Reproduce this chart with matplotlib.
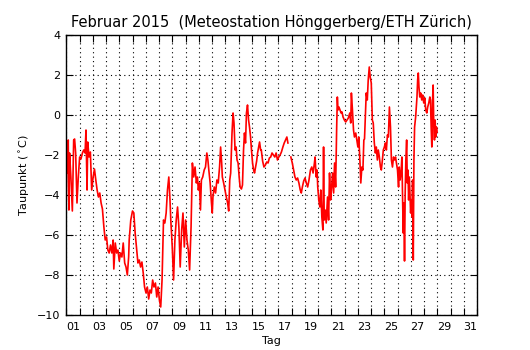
import numpy as np
import matplotlib
matplotlib.use('Agg')
import matplotlib.pyplot as plt

# Zeit in Tagen seit 1. Februar 00:00, Taupunkt in Grad Celsius
tag = [0.00, 0.05, 0.10, 0.15, 0.20, 0.25, 0.35, 0.46, 0.56, 0.63, 0.71, 0.81, 0.91,
       1.01, 1.11, 1.22, 1.32, 1.42, 1.49, 1.57, 1.62, 1.72, 1.82, 1.92,
       2.03, 2.13, 2.23, 2.33, 2.43, 2.53, 2.63, 2.73, 2.84, 2.94,
       3.04, 3.14, 3.24, 3.34, 3.44, 3.54, 3.59, 3.70, 3.80, 3.90,
       4.00, 4.10, 4.20, 4.30, 4.41, 4.51, 4.61, 4.71, 4.75, 4.87,
       5.00, 5.10, 5.20, 5.30, 5.41, 5.51, 5.61, 5.71, 5.81, 5.91,
       6.02, 6.12, 6.22, 6.32, 6.42, 6.52, 6.62, 6.73, 6.83, 6.93,
       7.03, 7.13, 7.23, 7.34, 7.44, 7.54, 7.64, 7.74, 7.82, 7.89,
       8.00, 8.10, 8.20, 8.30, 8.40, 8.50, 8.60, 8.71, 8.81, 8.91,
       9.01, 9.11, 9.21, 9.31, 9.42, 9.52, 9.62, 9.72, 9.82, 9.90, 9.97,
       10.05, 10.13, 10.20, 10.30, 10.41, 10.51, 10.61, 10.69, 10.76, 10.86, 10.96,
       11.02, 11.07, 11.17, 11.27, 11.37, 11.47, 11.57, 11.65, 11.73, 11.78, 11.88, 11.98,
       12.08, 12.18, 12.26, 12.34, 12.41, 12.51, 12.59, 12.66, 12.74, 12.82, 12.89, 12.97,
       13.05, 13.12, 13.22, 13.30, 13.38, 13.45, 13.53, 13.60, 13.68, 13.76, 13.83, 13.91, 13.98,
       14.06, 14.14, 14.21, 14.29, 14.37, 14.44, 14.52, 14.59, 14.67, 14.72, 14.82, 14.92,
       15.03, 15.13, 15.23, 15.33, 15.43, 15.53, 15.63, 15.74, 15.84, 15.94,
       16.04, 16.14, 16.24, 16.35, 16.45, 16.55, 16.65, 16.73, 16.84, 16.95,
       17.06, 17.16, 17.26, 17.36, 17.46, 17.56, 17.66, 17.74, 17.82, 17.92,
       18.02, 18.12, 18.22, 18.32, 18.43, 18.53, 18.63, 18.73, 18.78, 18.86, 18.93, 18.98,
       19.06, 19.14, 19.21, 19.29, 19.37, 19.42, 19.47, 19.54, 19.62, 19.72, 19.80, 19.87, 19.95,
       20.03, 20.10, 20.18, 20.25, 20.33, 20.41, 20.46, 20.51, 20.58, 20.66, 20.74, 20.81, 20.89, 20.99,
       21.09, 21.19, 21.29, 21.40, 21.47, 21.52, 21.60, 21.68, 21.75, 21.85, 21.93,
       22.01, 22.08, 22.16, 22.23, 22.31, 22.39, 22.46, 22.51, 22.59, 22.64, 22.72, 22.79, 22.87, 22.94,
       23.02, 23.10, 23.17, 23.25, 23.33, 23.40, 23.48, 23.55, 23.63, 23.71, 23.78, 23.86, 23.93,
       24.01, 24.09, 24.16, 24.24, 24.31, 24.39, 24.47, 24.54, 24.62, 24.70, 24.77, 24.85, 24.92,
       25.00, 25.08, 25.13, 25.20, 25.28, 25.33, 25.38, 25.43, 25.48, 25.53, 25.58, 25.63, 25.69,
       25.74, 25.79, 25.84, 25.89, 25.94, 25.99,
       26.04, 26.09, 26.14, 26.19, 26.24, 26.29, 26.37, 26.42, 26.47, 26.52, 26.57, 26.62, 26.68,
       26.75, 26.83, 26.90, 26.98,
       27.06, 27.13, 27.21, 27.28, 27.36, 27.44, 27.49, 27.54, 27.59, 27.64, 27.69, 27.74, 27.79,
       27.84, 27.89, 27.94, 27.99]

taupunkt = [-4.3, -1.6, -2.9, -1.25, -4.75, -1.9, -3.1, -4.8, -1.25, -1.2, -1.9, -4.4, -3.1,
            -2.1, -2.2, -1.9, -1.75, -1.9, -0.75, -3.75, -1.35, -2.1, -1.85, -3.75,
            -3.1, -2.7, -3.25, -3.75, -4.1, -3.9, -4.4, -4.7, -5.6, -6.25,
            -6.1, -6.75, -6.9, -6.5, -6.9, -6.25, -7.7, -6.4, -6.9, -6.75,
            -7.3, -6.9, -7.1, -6.4, -7.4, -7.6, -8.0, -7.1, -6.25, -5.25,
            -4.8, -4.9, -5.9, -6.6, -7.4, -7.25, -7.6, -7.35, -7.9, -8.6,
            -8.9, -8.6, -9.2, -8.75, -8.9, -8.25, -8.6, -8.4, -9.1, -8.6,
            -9.25, -9.6, -8.25, -5.25, -5.4, -4.9, -3.75, -3.1, -4.1, -5.25,
            -6.6, -8.25, -6.25, -5.25, -4.6, -5.6, -7.6, -5.75, -4.9, -6.6,
            -5.25, -6.25, -6.75, -7.75, -5.6, -2.4, -3.1, -2.6, -3.4, -3.1, -3.75,
            -3.4, -4.75, -3.25, -3.1, -2.75, -2.6, -1.9, -2.25, -2.75, -3.4, -4.4,
            -4.9, -4.1, -3.6, -3.9, -3.25, -3.4, -2.6, -1.6, -2.4, -3.1, -3.4, -3.75,
            -4.1, -4.4, -4.8, -3.25, -2.9, -0.9, 0.1, -0.4, -1.75, -1.6, -2.25, -2.4,
            -3.1, -3.6, -3.7, -3.5, -1.75, -0.9, -1.4, 0.1, 0.5, -0.25, -0.6, -1.1, -1.75,
            -2.4, -2.75, -2.9, -2.6, -2.3, -1.9, -1.6, -1.35, -1.75, -1.75, -2.3, -2.6,
            -2.5, -2.35, -2.4, -2.15, -2.1, -1.9, -2.0, -2.1, -1.9, -2.25,
            -2.1, -2.0, -1.85, -1.6, -1.4, -1.25, -1.1, -1.4, np.nan, -2.1,
            -2.4, -2.75, -3.1, -3.25, -3.15, -3.4, -3.75, -3.9, -3.6, -3.3,
            -3.15, -3.4, -3.6, -3.25, -2.75, -2.6, -2.9, -2.4, -2.1, -3.1, -2.75, -3.6,
            -4.25, -4.6, -3.75, -5.1, -5.75, -1.6, -5.25, -4.75, -5.4, -4.1, -5.25, -2.9, -4.25,
            -3.6, -2.9, -3.9, -2.4, -3.6, -0.6, 0.9, 0.25, 0.4, 0.25, 0.1, 0.15, -0.1, -0.25,
            -0.35, -0.25, -0.15, 0.1, -0.4, 1.1, 0.25, -0.75, -1.1, -0.9, -1.25,
            -1.6, -1.1, -2.25, -3.4, -2.6, -2.75, -1.25, -1.2, 0.25, 1.1, 0.75, 1.75, 2.4, 1.9,
            1.6, -0.25, -0.4, -1.4, -1.9, -1.6, -2.25, -1.75, -2.1, -2.6, -2.75, -2.25, -1.75,
            -1.6, -1.4, -1.75, -1.0, -1.1, 0.4, -0.6, -2.25, -2.6, -2.1, -2.25, -2.1, -2.4,
            -2.75, -3.6, -2.6, -3.25, -2.75, -2.1, -3.9, -5.9, -4.4, -7.3, -3.9, -2.25, -1.25,
            -3.4, -2.75, -4.25, -3.1, -3.9, -4.9,
            -4.25, -5.1, -3.25, -7.25, -2.25, -0.6, -0.1, 0.4, 0.9, 1.75, 2.1, 1.4, 0.9,
            1.1, 0.75, 1.0, 0.6,
            0.85, 0.25, 0.1, 0.4, 0.6, 0.9, 0.75, -0.6, -1.6, 0.6, 1.5, -0.6, -1.25,
            -0.25, -1.1, -0.6, -0.85]

tage_beschriftet = list(range(1, 32, 2))
y_ticks = list(range(-10, 5, 2))

fig = plt.figure(figsize=(5.3, 3.5), dpi=100)
ax = fig.add_axes([0.125, 0.1, 0.775, 0.8])

ax.plot(tag, taupunkt, color='red', linewidth=1.2)

ax.set_xlim(0, 31)
ax.set_ylim(-10, 4)

# Tagesgrenzen als Hauptticks, Beschriftung in Tagesmitte
ax.set_xticks(np.arange(0, 32))
ax.set_xticklabels([])
ax.set_xticks([d - 0.5 for d in tage_beschriftet], minor=True)
ax.set_xticklabels(['%02d' % d for d in tage_beschriftet], minor=True)
ax.set_yticks(y_ticks)

ax.tick_params(which='major', direction='in', top=True, right=True, length=5, width=0.8, labelsize=8)
ax.tick_params(which='minor', length=0, labelsize=8, pad=5)
ax.tick_params(axis='y', pad=4)

ax.grid(True, which='major', color='k', linestyle=(0, (1, 3)), linewidth=0.8)
for s in ax.spines.values():
    s.set_linewidth(1.0)

ax.set_title('Februar 2015  (Meteostation Hönggerberg/ETH Zürich)', fontsize=10.5)
ax.set_xlabel('Tag', fontsize=8, labelpad=3)
ax.set_ylabel(r'Taupunkt ($^\circ$C)', fontsize=8)

fig.savefig('out.png', dpi=100)
